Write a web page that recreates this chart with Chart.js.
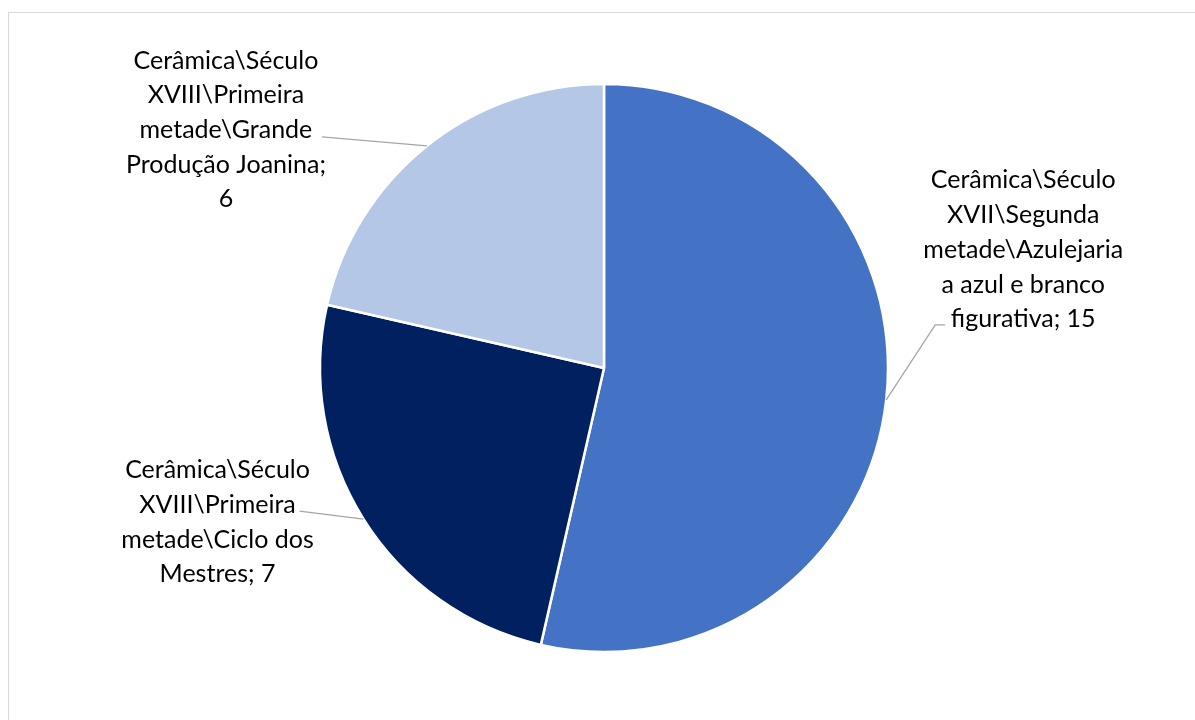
<!DOCTYPE html>
<html>
<head>
<meta charset="utf-8">
<script src="https://cdn.jsdelivr.net/npm/chart.js@4"></script>
<style>
  html, body { margin: 0; padding: 0; background: #fff; overflow: hidden; }
  #wrap { position: relative; width: 1195px; height: 720px; }
  #frame { position: absolute; left: 8px; top: 12px; width: 1200px; height: 720px; border: 1px solid #d9d9d9; box-sizing: border-box; }
  canvas { position: absolute; left: 0; top: 0; }
</style>
</head>
<body>
<div id="wrap">
  <div id="frame"></div>
  <canvas id="c" width="1195" height="720"></canvas>
</div>
<script>
const categories = [
  ["Cerâmica\\Século", "XVII\\Segunda", "metade\\Azulejaria", "a azul e branco", "figurativa; 15"],
  ["Cerâmica\\Século", "XVIII\\Primeira", "metade\\Ciclo dos", "Mestres; 7"],
  ["Cerâmica\\Século", "XVIII\\Primeira", "metade\\Grande", "Produção Joanina;", "6"]
];
const values = [15, 7, 6];
const colors = ["#4472C4", "#002060", "#B4C7E7"];

// label layout: text block centre offset from slice edge mid-point, leader line end (relative to text centre)
const labelLayout = [
  { dx: 137, dy: -150, lx: -88, ly: 75, elbow: 10 },
  { dx: -146, dy: 3, lx: 82, ly: -11, elbow: 0 },
  { dx: -201, dy: -16, lx: 96, ly: 7, elbow: 0 }
];

const FONT = '25px Lato';
const LINE_H = 34.7;

const labelPlugin = {
  id: 'pieLabels',
  afterDatasetsDraw(chart) {
    const ctx = chart.ctx;
    const meta = chart.getDatasetMeta(0);
    meta.data.forEach((arc, i) => {
      const p = arc.getProps(['x', 'y', 'startAngle', 'endAngle', 'outerRadius'], true);
      const mid = (p.startAngle + p.endAngle) / 2;
      const ex = p.x + Math.cos(mid) * p.outerRadius;
      const ey = p.y + Math.sin(mid) * p.outerRadius;
      const L = labelLayout[i];
      const tx = ex + L.dx, ty = ey + L.dy;
      ctx.save();
      ctx.strokeStyle = '#a6a6a6';
      ctx.lineWidth = 1.3;
      ctx.beginPath();
      ctx.moveTo(ex, ey);
      const lx = tx + L.lx, ly = ty + L.ly;
      ctx.lineTo(lx, ly);
      if (L.elbow) ctx.lineTo(lx + L.elbow, ly);
      ctx.stroke();
      ctx.fillStyle = '#000';
      ctx.font = FONT;
      ctx.textAlign = 'center';
      ctx.textBaseline = 'middle';
      const lines = categories[i];
      const top = ty - (lines.length - 1) * LINE_H / 2;
      lines.forEach((t, k) => ctx.fillText(t, tx, top + k * LINE_H));
      ctx.restore();
    });
  }
};

new Chart(document.getElementById('c'), {
  type: 'pie',
  data: {
    labels: categories.map(c => c.join(' ')),
    datasets: [{
      data: values,
      backgroundColor: colors,
      borderColor: '#ffffff',
      borderWidth: 2.5,
      hoverOffset: 0,
      radius: 284
    }]
  },
  options: {
    responsive: false,
    animation: false,
    layout: { padding: { left: 320, right: 307, top: 84, bottom: 68 } },
    plugins: { legend: { display: false }, tooltip: { enabled: false } }
  },
  plugins: [labelPlugin]
});
</script>
</body>
</html>
